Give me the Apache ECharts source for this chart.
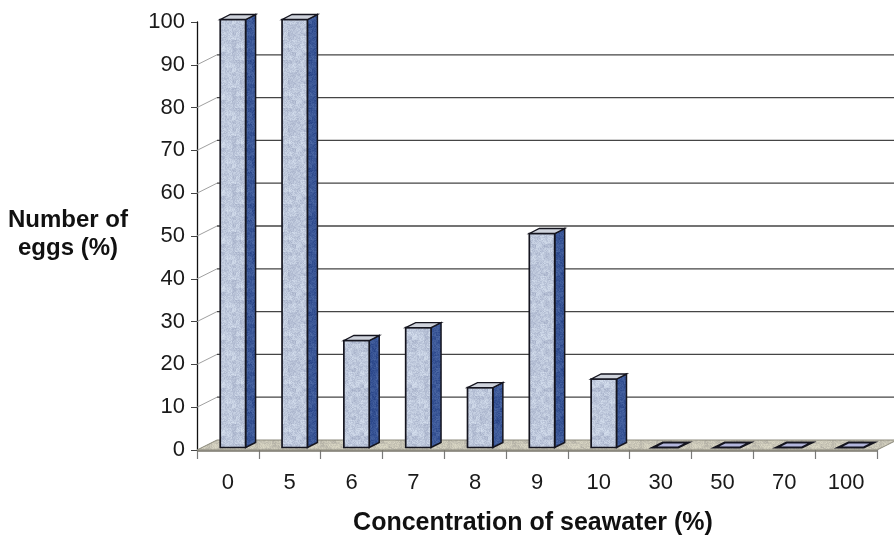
<!DOCTYPE html>
<html>
<head>
<meta charset="utf-8">
<script src="https://cdn.jsdelivr.net/npm/echarts@6/dist/echarts.min.js"></script>
<style>
  html, body { margin: 0; padding: 0; background: #ffffff; }
  #chart { width: 894px; height: 545px; }
</style>
</head>
<body>
<div id="chart"></div>
<script>
// Seawater concentration categories (%) and share of eggs (%)
const categories = ['0', '5', '6', '7', '8', '9', '10', '30', '50', '70', '100'];
const eggPercent = [100, 100, 25, 28, 14, 50, 16, 0, 0, 0, 0];
const wallTicks = [10, 20, 30, 40, 50, 60, 70, 80, 90];

// Depth of the pseudo-3D box (pixels, front plane -> back wall)
const DX = 20, DY = -10;
const FONT = '"Liberation Sans", Arial, sans-serif';

// Mottled texture tile built from a small integer hash (repeatable, no randomness)
function hash(x, y, s) {
  let h = (x * 374761393 + y * 668265263 + s * 2147483647) | 0;
  h = (h ^ (h >>> 13)) * 1274126177 | 0;
  return ((h ^ (h >>> 16)) >>> 0) / 4294967295;
}
function texture(r, g, b, amp, seed) {
  const size = 48;
  const c = document.createElement('canvas');
  c.width = size; c.height = size;
  const ctx = c.getContext('2d');
  const img = ctx.createImageData(size, size);
  for (let y = 0; y < size; y++) {
    for (let x = 0; x < size; x++) {
      // blend fine grain with a coarser blotch so it reads like a stone texture
      const fine = hash(x, y, seed) - 0.5;
      const coarse = hash(x >> 2, y >> 2, seed + 7) - 0.5;
      const d = (fine * 0.55 + coarse * 0.45) * amp;
      const i = (y * size + x) * 4;
      img.data[i] = Math.max(0, Math.min(255, r + d));
      img.data[i + 1] = Math.max(0, Math.min(255, g + d));
      img.data[i + 2] = Math.max(0, Math.min(255, b + d * 0.8));
      img.data[i + 3] = 255;
    }
  }
  ctx.putImageData(img, 0, 0);
  return { image: c, repeat: 'repeat' };
}
const frontFill = texture(188, 198, 218, 50, 1);
const sideFill = texture(58, 86, 150, 40, 2);
const floorFill = texture(200, 197, 182, 46, 3);

const chart = echarts.init(document.getElementById('chart'), null, { renderer: 'canvas' });

// Back wall gridlines plus the short diagonals joining them to the value axis
function renderWall(params, api) {
  const cs = params.coordSys;
  const y = api.coord([0, api.value(0)])[1];
  const x0 = cs.x;
  const x1 = cs.x + cs.width + DX + 10;
  return {
    type: 'group',
    children: [
      { type: 'line', shape: { x1: x0, y1: y, x2: x0 + DX, y2: y + DY },
        style: { stroke: '#a0a0a0', lineWidth: 1 } },
      { type: 'line', shape: { x1: x0 + DX, y1: y + DY, x2: x1, y2: y + DY },
        style: { stroke: '#454545', lineWidth: 1.3 } }
    ]
  };
}

// Floor slab under the bars
function renderFloor(params, api) {
  const cs = params.coordSys;
  const yb = api.coord([0, 0])[1];
  const xl = cs.x, xr = cs.x + cs.width;
  return {
    type: 'group',
    children: [
      { type: 'polygon',
        shape: { points: [[xl, yb], [xr, yb], [xr + DX, yb + DY], [xl + DX, yb + DY]] },
        style: { fill: floorFill, stroke: '#8c8a7c', lineWidth: 1 } },
      { type: 'line', shape: { x1: xl, y1: yb + 1, x2: xr, y2: yb + 1 },
        style: { stroke: '#77756a', lineWidth: 1.5 } }
    ]
  };
}

// Box-shaped bars: front face, side face and top face
function renderBar(params, api) {
  const idx = api.value(0);
  const val = api.value(1);
  const base = api.coord([idx, 0]);
  const top = api.coord([idx, val]);
  const band = api.size([1, 0])[0];
  const w = band * 0.41;
  const fx = base[0] - w / 2 + DX * 0.25;
  const fy0 = base[1] + DY * 0.25;
  const fy1 = top[1] + DY * 0.25;
  const sx = DX * 0.5, sy = DY * 0.5;
  const outline = '#15151f';
  const children = [];
  if (val > 0) {
    children.push({ type: 'polygon',
      shape: { points: [[fx + w, fy1], [fx + w + sx, fy1 + sy], [fx + w + sx, fy0 + sy], [fx + w, fy0]] },
      style: { fill: sideFill, stroke: outline, lineWidth: 1.5 } });
    children.push({ type: 'rect',
      shape: { x: fx, y: fy1, width: w, height: fy0 - fy1 },
      style: { fill: frontFill, stroke: outline, lineWidth: 1.7 } });
    children.push({ type: 'polygon',
      shape: { points: [[fx, fy1], [fx + sx, fy1 + sy], [fx + w + sx, fy1 + sy], [fx + w, fy1]] },
      style: { fill: '#cfd3dc', stroke: outline, lineWidth: 1.3 } });
  } else {
    children.push({ type: 'polygon',
      shape: { points: [[fx, fy0], [fx + sx, fy0 + sy], [fx + w + sx, fy0 + sy], [fx + w, fy0]] },
      style: { fill: '#b3b6dc', stroke: outline, lineWidth: 2.2 } });
  }
  return { type: 'group', children: children };
}

const option = {
  backgroundColor: '#ffffff',
  animation: false,
  grid: { left: 197, right: 17, top: 22, bottom: 95, containLabel: false },
  xAxis: {
    type: 'category',
    data: categories,
    boundaryGap: true,
    axisLine: { show: false },
    axisTick: { show: true, interval: 0, length: 9, lineStyle: { color: '#7a7a7a', width: 1.2 } },
    axisLabel: { interval: 0, margin: 22, fontSize: 22, color: '#1a1a1a', fontFamily: FONT },
    splitLine: { show: false }
  },
  yAxis: {
    type: 'value',
    min: 0,
    max: 100,
    interval: 10,
    axisLine: { show: true, lineStyle: { color: '#111111', width: 1.3 } },
    axisTick: { show: true, length: 6, lineStyle: { color: '#444444', width: 1 } },
    axisLabel: { margin: 12, fontSize: 22, color: '#1a1a1a', fontFamily: FONT },
    splitLine: { show: false }
  },
  graphic: [
    { type: 'text', x: 68, y: 234,
      style: { text: 'Number of\neggs (%)', font: 'bold 24px ' + FONT, fill: '#111111',
               textAlign: 'center', textVerticalAlign: 'middle', lineHeight: 28 } },
    { type: 'text', x: 533, y: 523,
      style: { text: 'Concentration of seawater (%)', font: 'bold 25px ' + FONT, fill: '#111111',
               textAlign: 'center', textVerticalAlign: 'middle' } }
  ],
  series: [
    { type: 'custom', name: 'wall', renderItem: renderWall, silent: true,
      data: wallTicks.map(v => [v]), encode: { y: 0 }, z: 1 },
    { type: 'custom', name: 'floor', renderItem: renderFloor, silent: true,
      data: [[0]], z: 2 },
    { type: 'custom', name: 'Number of eggs (%)', renderItem: renderBar,
      data: eggPercent.map((v, i) => [i, v]), encode: { x: 0, y: 1 }, z: 3 }
  ]
};

chart.setOption(option);
</script>
</body>
</html>
